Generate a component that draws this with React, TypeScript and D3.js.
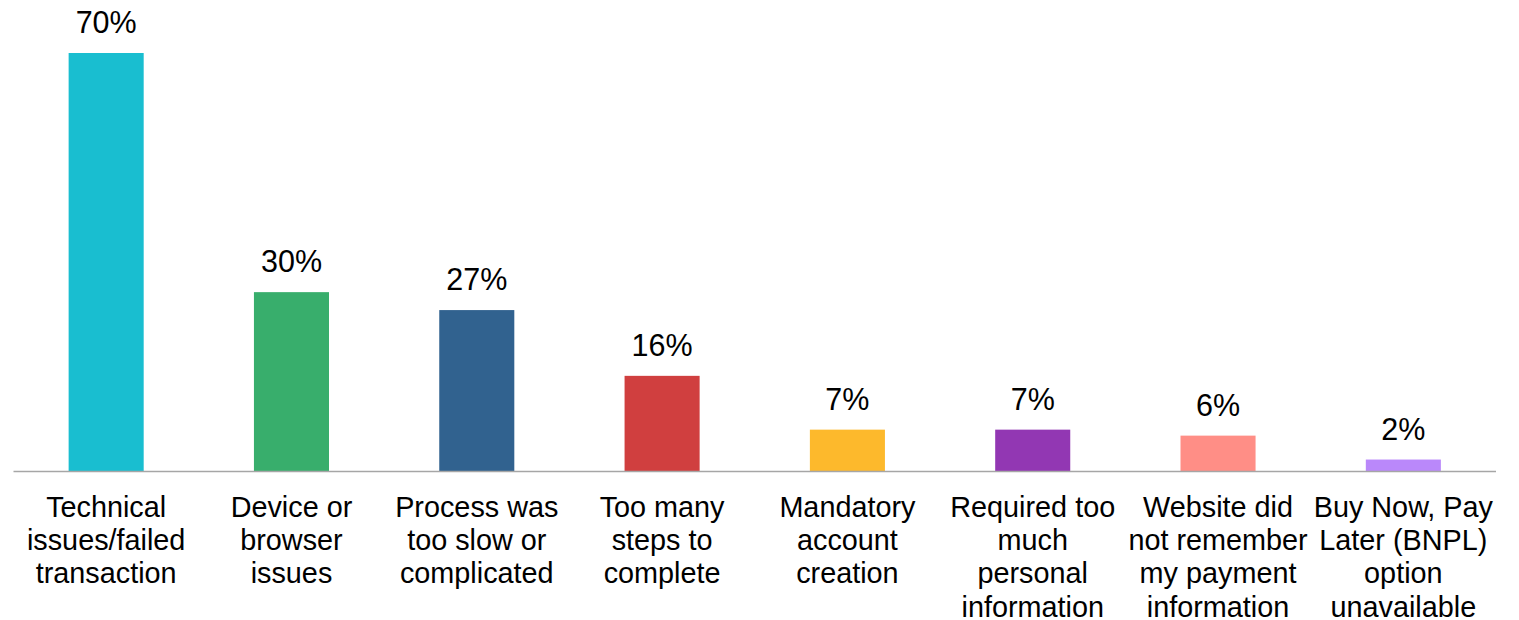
import React from "react";
import * as d3 from "d3";

const categories: string[][] = [
  ["Technical", "issues/failed", "transaction"],
  ["Device or", "browser", "issues"],
  ["Process was", "too slow or", "complicated"],
  ["Too many", "steps to", "complete"],
  ["Mandatory", "account", "creation"],
  ["Required too", "much", "personal", "information"],
  ["Website did", "not remember", "my payment", "information"],
  ["Buy Now, Pay", "Later (BNPL)", "option", "unavailable"],
];
const values: number[] = [70, 30, 27, 16, 7, 7, 6, 2];
const colors: string[] = ["#19BED0", "#38AE6C", "#31628F", "#D03F3F", "#FDB92C", "#9237B3", "#FF8E86", "#BA88FA"];

const W = 1519;
const H = 620;
const x0 = 13.5;
const x1 = 1496;
const baseY = 471.5;
const FONT = "'Liberation Sans', Arial, sans-serif";

export default function App() {
  const idx = values.map((_, i) => String(i));
  const x = d3.scaleBand<string>().domain(idx).range([x0, x1]).paddingInner(0.595).paddingOuter(0.2975);
  const y = d3.scaleLinear().domain([0, 70]).range([baseY, 53]);
  return (
    <svg width={W} height={H} style={{ position: "absolute", left: 0, top: 0 }}>
      <rect width={W} height={H} fill="#fff" />
      {values.map((v, i) => (
        <g key={i}>
          <rect x={x(String(i))} y={y(v)} width={x.bandwidth()} height={baseY - y(v)} fill={colors[i]} />
          <text
            x={(x(String(i)) as number) + x.bandwidth() / 2}
            y={y(v) - 20}
            textAnchor="middle"
            fontFamily={FONT}
            fontSize={30.5}
            fill="#000"
          >
            {v}%
          </text>
          {categories[i].map((line, j) => (
            <text
              key={j}
              x={(x(String(i)) as number) + x.bandwidth() / 2}
              y={516.7 + j * 33.3}
              textAnchor="middle"
              fontFamily={FONT}
              fontSize={28.8}
              fill="#000"
            >
              {line}
            </text>
          ))}
        </g>
      ))}
      <line x1={x0} x2={x1} y1={baseY} y2={baseY} stroke="#A6A6A6" strokeWidth={1.5} />
    </svg>
  );
}
